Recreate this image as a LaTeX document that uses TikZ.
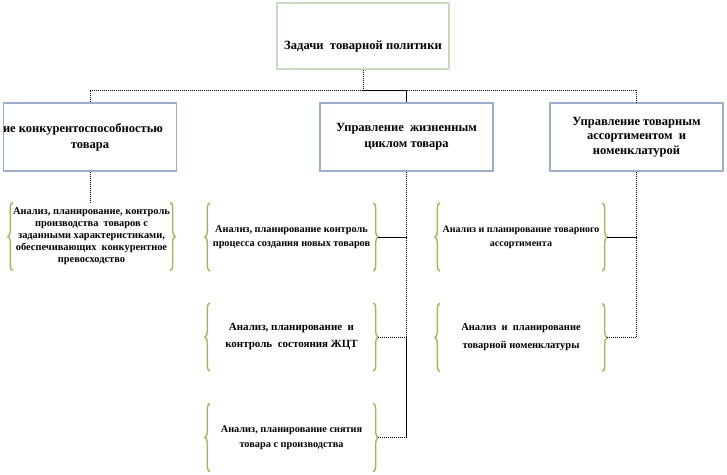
\documentclass[tikz,border=0pt]{standalone}
\usepackage{fontspec}
\setmainfont{Liberation Serif}
\usetikzlibrary{decorations.pathreplacing,calc}
\definecolor{topline}{RGB}{200,218,192}
\definecolor{boxline}{RGB}{155,175,205}
\definecolor{bracecol}{RGB}{155,187,89}
\begin{document}
\begin{tikzpicture}[x=1pt,y=-1pt,
  topbox/.style={draw=topline,line width=1.6pt,minimum width=172pt,minimum height=66pt,inner sep=0pt},
  headbox/.style={draw=boxline,line width=1.6pt,minimum width=173pt,minimum height=68pt,inner sep=0pt,align=center,font=\bfseries\fontsize{12.5}{16}\selectfont},
  leaf/.style={inner sep=0pt,minimum height=68pt,align=center},
  bracel/.style={draw=bracecol,line width=1.4pt,decorate,decoration={brace,amplitude=5pt}},
  conn/.style={black,line width=0.8pt,dash pattern=on 1pt off 1pt},
  solidconn/.style={black,line width=0.8pt}]
\useasboundingbox (0,0) rectangle (727,474);

% level 0
\node[topbox] (top) at (363,36) {};
\node[font=\bfseries\fontsize{12.6}{15}\selectfont] (toptitle) at (363,47) {Задачи\ \ товарной политики};

% level 1
\node[headbox] (lbox) at (90,137) {\hspace*{-14pt}ие конкурентоспособностью\\товара};
\node[headbox] (mbox) at (406.5,137) {Управление\ \ жизненным\\циклом товара};
\node[headbox,font=\bfseries\fontsize{12.5}{14.5}\selectfont] (rbox) at (636.5,137) {Управление товарным\\ассортиментом\ \ и\\номенклатурой};

% leaves
\node[leaf,minimum width=157pt,font=\bfseries\fontsize{10.4}{12}\selectfont] (l1) at (91.5,236.5)
  {Анализ, планирование, контроль\\производства\ \ товаров с\\заданными характеристиками,\\обеспечивающих\ \ конкурентное\\превосходство};
\node[leaf,minimum width=163pt,font=\bfseries\fontsize{10.3}{14}\selectfont] (m1) at (291.5,237)
  {Анализ, планирование контроль\\процесса создания новых товаров};
\node[leaf,minimum width=163pt,font=\bfseries\fontsize{11}{17}\selectfont] (m2) at (291.5,337)
  {Анализ,\ планирование\ \ и\\контроль\ \ состояния ЖЦТ};
\node[leaf,minimum width=163pt,font=\bfseries\fontsize{10.3}{15}\selectfont] (m3) at (291.5,437.5)
  {Анализ, планирование снятия\\товара с производства};
\node[leaf,minimum width=162pt,font=\bfseries\fontsize{10}{14}\selectfont] (r1) at (521,237)
  {Анализ и планирование товарного\\ассортимента};
\node[leaf,minimum width=162pt,font=\bfseries\fontsize{10.5}{18}\selectfont] (r2) at (521,337.5)
  {Анализ\ \ и\ \ планирование\\товарной номенклатуры};

% braces
\foreach \n in {l1,m1,m2,m3,r1,r2}{
  \draw[bracel] (\n.south west) -- (\n.north west);
  \draw[bracel] (\n.north east) -- (\n.south east);
}

% top connectors
\coordinate (bus) at (0,90);
\draw[conn] (top.south) -- (top.south |- bus);
\draw[conn] (lbox.north) -- (lbox.north |- bus) -- (top.south |- bus);
\draw[solidconn] (top.south |- bus) -- (mbox.north |- bus) -- (mbox.north);
\draw[conn] (mbox.north |- bus) -- (rbox.north |- bus) -- (rbox.north);

% left branch
\draw[conn] (lbox.south) -- (lbox.south |- l1.north);

% middle branch
\draw[conn] (mbox.south) -- (mbox.south |- m2.east);
\draw[solidconn] (mbox.south |- m2.east) -- (mbox.south |- m3.east);
\draw[solidconn] ([xshift=5pt]m1.east) -- (m1.east -| mbox.south);
\draw[conn] ([xshift=5pt]m2.east) -- (m2.east -| mbox.south);
\draw[conn] ([xshift=5pt]m3.east) -- (m3.east -| mbox.south);

% right branch
\draw[conn] (rbox.south) -- (rbox.south |- r2.east);
\draw[solidconn] ([xshift=5pt]r1.east) -- (r1.east -| rbox.south);
\draw[conn] ([xshift=5pt]r2.east) -- (r2.east -| rbox.south);
\end{tikzpicture}
\end{document}
